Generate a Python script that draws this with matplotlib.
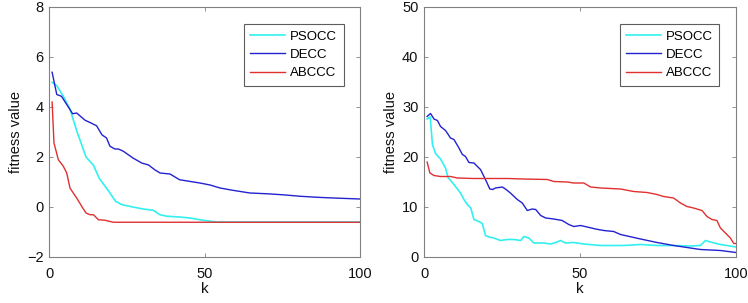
import matplotlib
matplotlib.use("Agg")
import matplotlib.pyplot as plt

plt.rcParams['font.family'] = ['Liberation Sans', 'DejaVu Sans']

series_names = ["PSOCC", "DECC", "ABCCC"]
colors = ["#33f0f0", "#2222d0", "#e03030"]

# Left panel
l_pso_k = [1, 2.5, 4.6, 6.8, 8.9, 11.9, 14.3, 16.1, 19.2, 21.4, 23.5, 27, 30.3, 33.5, 35.7, 37.9, 42, 45.3, 48.5, 50.7, 54, 60, 100]
l_pso_v = [4.99, 4.85, 4.43, 3.9, 3.05, 2.0, 1.67, 1.16, 0.63, 0.23, 0.09, 0.0, -0.08, -0.13, -0.31, -0.37, -0.4, -0.44, -0.51, -0.55, -0.6, -0.6, -0.6]
l_de_k = [1, 2.5, 4, 5.7, 7.6, 8.9, 11.6, 13, 15.3, 17, 18.5, 19.6, 21.2, 22.3, 23.9, 25.5, 27, 29.8, 32, 34, 35.7, 38.9, 42, 45, 48.5, 51.8, 55, 59, 64.6, 70, 75, 80.7, 86, 91.4, 100]
l_de_v = [5.39, 4.5, 4.43, 4.1, 3.73, 3.76, 3.47, 3.39, 3.25, 2.89, 2.76, 2.43, 2.32, 2.32, 2.23, 2.09, 1.96, 1.76, 1.68, 1.49, 1.36, 1.32, 1.09, 1.03, 0.96, 0.88, 0.76, 0.67, 0.56, 0.53, 0.49, 0.43, 0.39, 0.36, 0.32]
l_abc_k = [1, 1.6, 3, 4.6, 5.7, 6.75, 7.8, 8.9, 10.5, 11.9, 13.2, 14.3, 15.9, 18, 20.7, 100]
l_abc_v = [4.2, 2.56, 1.89, 1.63, 1.36, 0.76, 0.56, 0.36, 0.03, -0.24, -0.31, -0.31, -0.51, -0.53, -0.61, -0.61]

# Right panel
r_pso_k = [1, 2, 2.7, 3.7, 5.3, 6.9, 7.7, 9.6, 11.7, 12.8, 13.9, 15, 16, 17.6, 18.7, 19.7, 20.8, 22.4, 24.5, 26.7, 28.8, 31, 32, 33.6, 35.2, 38.4, 40.6, 42.2, 43.8, 45.4, 48, 51.2, 56.6, 64, 69.4, 74.7, 80, 85.4, 88.6, 90.2, 91.8, 95, 97.1, 100]
r_pso_v = [27.6, 28, 22.5, 20.7, 19.6, 17.8, 15.9, 14.5, 12.8, 11.5, 10.5, 9.8, 7.5, 7.1, 6.7, 4.3, 4.0, 3.8, 3.3, 3.5, 3.5, 3.3, 4.1, 3.8, 2.8, 2.8, 2.6, 2.9, 3.3, 2.8, 2.9, 2.6, 2.3, 2.3, 2.5, 2.3, 2.3, 2.2, 2.3, 3.3, 3.0, 2.5, 2.3, 2.0]
r_de_k = [1, 2.1, 3.2, 4.3, 5.3, 6.9, 8.5, 9.6, 11.2, 12.3, 13.3, 14.4, 16, 18.1, 19.7, 21.1, 22, 22.9, 25.1, 26.1, 27.7, 29.9, 31.5, 33.1, 34.7, 35.8, 37.4, 39, 41.6, 44.3, 46.4, 48, 50.2, 52.3, 55, 57.6, 60.8, 63, 69.4, 74.7, 80, 85.4, 88.6, 95, 100]
r_de_v = [28.1, 28.7, 27.6, 27.3, 26.1, 25.3, 23.8, 23.5, 21.8, 20.5, 20.1, 18.9, 18.8, 17.5, 15.5, 13.6, 13.5, 13.8, 14.0, 13.6, 12.8, 11.5, 10.8, 9.3, 9.6, 9.5, 8.3, 7.8, 7.6, 7.3, 6.5, 6.1, 6.3, 6.0, 5.6, 5.3, 5.1, 4.5, 3.6, 2.9, 2.3, 1.8, 1.5, 1.3, 0.9]
r_abc_k = [1, 1.9, 3.2, 5.3, 8.5, 10.7, 16, 26.7, 32, 39.5, 41.6, 45.9, 48, 51.2, 53.4, 56.6, 63, 67.2, 71.5, 74.7, 76.8, 80, 82.2, 84.3, 86.4, 89.1, 90.7, 92.3, 93.9, 95, 96.6, 98.2, 99.3, 100]
r_abc_v = [19, 16.8, 16.3, 16.1, 16.1, 15.8, 15.7, 15.7, 15.6, 15.5, 15.1, 15.0, 14.8, 14.8, 14.0, 13.8, 13.6, 13.1, 12.9, 12.5, 12.1, 11.8, 10.8, 10.1, 9.8, 9.3, 8.1, 7.5, 7.3, 5.8, 4.8, 3.8, 2.7, 2.7]

x_ticks = [0, 50, 100]
left_yticks = [-2, 0, 2, 4, 6, 8]
right_yticks = [0, 10, 20, 30, 40, 50]

W, H = 748, 303
fig = plt.figure(figsize=(W / 100, H / 100), dpi=100)

def make_ax(px_left, px_right, px_top, px_bottom):
    return fig.add_axes([px_left / W, 1 - px_bottom / H, (px_right - px_left) / W, (px_bottom - px_top) / H])

axL = make_ax(49, 360, 7, 257)
axR = make_ax(424, 736, 7, 257)

panels = [
    (axL, [(l_pso_k, l_pso_v), (l_de_k, l_de_v), (l_abc_k, l_abc_v)], (-2, 8), left_yticks),
    (axR, [(r_pso_k, r_pso_v), (r_de_k, r_de_v), (r_abc_k, r_abc_v)], (0, 50), right_yticks),
]

for ax, data, ylim, yticks in panels:
    for (k, v), name, c, lw in zip(data, series_names, colors, [1.2, 1.0, 1.0]):
        ax.plot(k, v, color=c, lw=lw, label=name)
    ax.set_xlim(0, 100)
    ax.set_ylim(*ylim)
    ax.set_xticks(x_ticks)
    ax.set_yticks(yticks)
    ax.tick_params(axis='both', direction='in', length=3, width=0.6, colors='#808080', labelcolor='#111111',
                   labelsize=10.5, top=True, right=True)
    ax.tick_params(axis='x', pad=7)
    ax.tick_params(axis='y', pad=4)
    for s in ax.spines.values():
        s.set_color('#808080')
        s.set_linewidth(0.8)
    ax.set_xlabel('k', fontsize=11, labelpad=1, color='#111111')
    ax.set_ylabel('fitness value', fontsize=10.5, labelpad=3, color='#111111')
    leg = ax.legend(loc='upper right', bbox_to_anchor=(0.947, 0.932), fontsize=9.5, frameon=True,
                    fancybox=False, edgecolor='#333333', handlelength=2.6, handletextpad=0.4,
                    labelspacing=0.45, borderpad=0.5, borderaxespad=0)
    leg.get_frame().set_linewidth(0.8)

fig.savefig('out.png', dpi=100)
